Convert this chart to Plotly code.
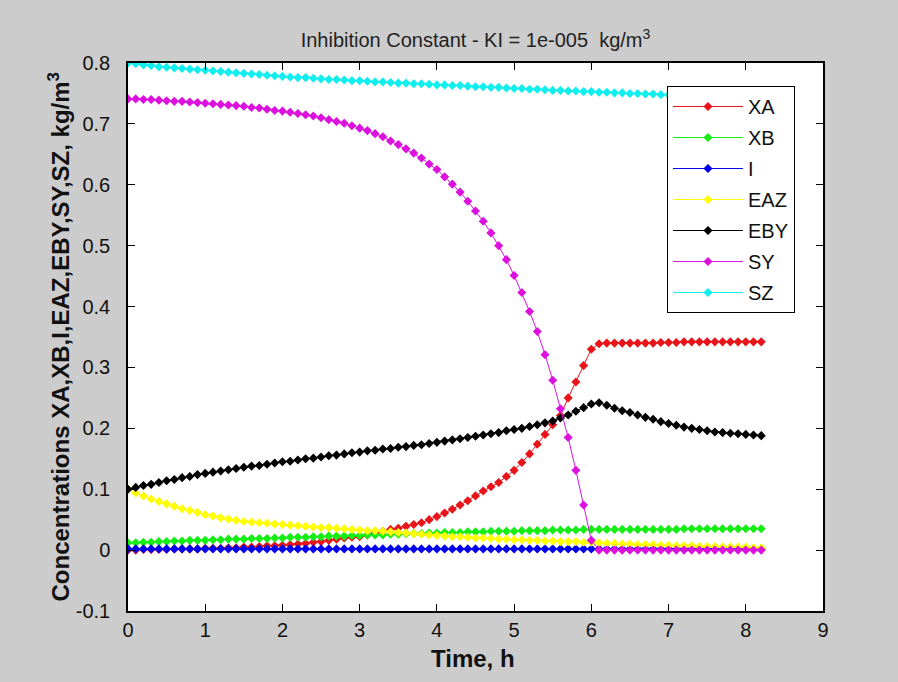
import plotly.graph_objects as go

# ---------------- data ----------------
t = [0.0, 0.1, 0.2, 0.3, 0.4, 0.5, 0.6, 0.7, 0.8, 0.9,
     1.0, 1.1, 1.2, 1.3, 1.4, 1.5, 1.6, 1.7, 1.8, 1.9,
     2.0, 2.1, 2.2, 2.3, 2.4, 2.5, 2.6, 2.7, 2.8, 2.9,
     3.0, 3.1, 3.2, 3.3, 3.4, 3.5, 3.6, 3.7, 3.8, 3.9,
     4.0, 4.1, 4.2, 4.3, 4.4, 4.5, 4.6, 4.7, 4.8, 4.9,
     5.0, 5.1, 5.2, 5.3, 5.4, 5.5, 5.6, 5.7, 5.8, 5.9,
     6.0, 6.1, 6.2, 6.3, 6.4, 6.5, 6.6, 6.7, 6.8, 6.9,
     7.0, 7.1, 7.2, 7.3, 7.4, 7.5, 7.6, 7.7, 7.8, 7.9,
     8.0, 8.1, 8.2]

XA = [0.000, 0.000, 0.001, 0.001, 0.001, 0.001, 0.002, 0.002, 0.002, 0.002,
      0.003, 0.003, 0.003, 0.004, 0.004, 0.005, 0.005, 0.006, 0.007, 0.007,
      0.008, 0.009, 0.010, 0.011, 0.013, 0.014, 0.016, 0.018, 0.020, 0.021,
      0.022, 0.025, 0.028, 0.031, 0.034, 0.036, 0.039, 0.042, 0.045, 0.050,
      0.055, 0.061, 0.067, 0.074, 0.081, 0.089, 0.097, 0.104, 0.111, 0.121,
      0.131, 0.144, 0.158, 0.174, 0.190, 0.206, 0.221, 0.250, 0.276, 0.303,
      0.330, 0.339, 0.340, 0.340, 0.340, 0.340, 0.340, 0.340, 0.340, 0.341,
      0.341, 0.341, 0.342, 0.342, 0.342, 0.342, 0.342, 0.342, 0.342, 0.342,
      0.342, 0.342, 0.342]

XB = [0.012, 0.012, 0.013, 0.013, 0.014, 0.014, 0.015, 0.015, 0.016, 0.016,
      0.016, 0.017, 0.017, 0.018, 0.018, 0.018, 0.019, 0.019, 0.019, 0.020,
      0.020, 0.021, 0.021, 0.021, 0.022, 0.022, 0.023, 0.023, 0.023, 0.024,
      0.024, 0.025, 0.025, 0.025, 0.026, 0.026, 0.027, 0.027, 0.027, 0.028,
      0.028, 0.029, 0.029, 0.029, 0.030, 0.030, 0.030, 0.031, 0.031, 0.031,
      0.031, 0.032, 0.032, 0.032, 0.032, 0.033, 0.033, 0.033, 0.033, 0.034,
      0.034, 0.034, 0.034, 0.034, 0.034, 0.034, 0.034, 0.034, 0.034, 0.034,
      0.034, 0.034, 0.035, 0.035, 0.035, 0.035, 0.035, 0.035, 0.035, 0.035,
      0.035, 0.035, 0.035]

I = [0.002, 0.002, 0.002, 0.002, 0.002, 0.002, 0.002, 0.002, 0.002, 0.002,
     0.002, 0.002, 0.002, 0.002, 0.002, 0.002, 0.002, 0.002, 0.002, 0.002,
     0.002, 0.002, 0.002, 0.002, 0.002, 0.002, 0.002, 0.002, 0.002, 0.002,
     0.002, 0.002, 0.002, 0.002, 0.002, 0.002, 0.002, 0.002, 0.002, 0.002,
     0.002, 0.002, 0.002, 0.002, 0.002, 0.002, 0.002, 0.002, 0.002, 0.002,
     0.002, 0.002, 0.002, 0.002, 0.002, 0.002, 0.002, 0.002, 0.002, 0.002,
     0.002, 0.002, 0.002, 0.002, 0.002, 0.002, 0.002, 0.002, 0.002, 0.002,
     0.002, 0.002, 0.002, 0.002, 0.002, 0.002, 0.002, 0.002, 0.002, 0.002,
     0.002, 0.002, 0.002]

EAZ = [0.100, 0.094, 0.089, 0.084, 0.080, 0.076, 0.072, 0.068, 0.065, 0.062,
       0.058, 0.056, 0.053, 0.051, 0.049, 0.047, 0.046, 0.045, 0.044, 0.043,
       0.042, 0.041, 0.040, 0.039, 0.038, 0.037, 0.037, 0.036, 0.035, 0.034,
       0.033, 0.032, 0.032, 0.031, 0.030, 0.029, 0.028, 0.027, 0.026, 0.025,
       0.024, 0.023, 0.022, 0.022, 0.021, 0.020, 0.020, 0.019, 0.018, 0.018,
       0.017, 0.017, 0.016, 0.016, 0.015, 0.015, 0.014, 0.014, 0.014, 0.013,
       0.013, 0.012, 0.011, 0.011, 0.010, 0.010, 0.009, 0.009, 0.009, 0.008,
       0.008, 0.007, 0.007, 0.007, 0.006, 0.006, 0.006, 0.005, 0.005, 0.005,
       0.005, 0.004, 0.004]

EBY = [0.100, 0.103, 0.106, 0.108, 0.111, 0.114, 0.116, 0.119, 0.121, 0.124,
       0.126, 0.128, 0.130, 0.132, 0.134, 0.136, 0.138, 0.139, 0.141, 0.143,
       0.145, 0.146, 0.148, 0.150, 0.151, 0.153, 0.155, 0.156, 0.158, 0.160,
       0.161, 0.163, 0.164, 0.166, 0.167, 0.169, 0.170, 0.172, 0.173, 0.175,
       0.177, 0.179, 0.181, 0.183, 0.185, 0.187, 0.189, 0.191, 0.193, 0.196,
       0.198, 0.200, 0.203, 0.206, 0.209, 0.212, 0.217, 0.222, 0.228, 0.234,
       0.240, 0.242, 0.238, 0.233, 0.229, 0.226, 0.222, 0.218, 0.215, 0.211,
       0.208, 0.205, 0.202, 0.200, 0.198, 0.196, 0.194, 0.193, 0.192, 0.191,
       0.190, 0.189, 0.188]

SY = [0.741, 0.741, 0.740, 0.740, 0.739, 0.738, 0.737, 0.737, 0.736, 0.735,
      0.734, 0.733, 0.732, 0.731, 0.730, 0.729, 0.727, 0.726, 0.724, 0.722,
      0.721, 0.719, 0.717, 0.715, 0.713, 0.710, 0.707, 0.704, 0.701, 0.697,
      0.693, 0.689, 0.684, 0.679, 0.672, 0.666, 0.659, 0.652, 0.644, 0.634,
      0.625, 0.613, 0.601, 0.588, 0.573, 0.557, 0.540, 0.521, 0.500, 0.477,
      0.451, 0.423, 0.392, 0.359, 0.321, 0.279, 0.232, 0.185, 0.131, 0.074,
      0.016, 0.000, 0.000, 0.000, 0.000, 0.000, 0.000, 0.000, 0.000, 0.000,
      0.000, 0.000, 0.000, 0.000, 0.000, 0.000, 0.000, 0.000, 0.000, 0.000,
      0.000, 0.000, 0.000]

SZ = [0.800, 0.799, 0.797, 0.796, 0.794, 0.793, 0.792, 0.791, 0.790, 0.789,
      0.788, 0.787, 0.786, 0.785, 0.784, 0.783, 0.782, 0.781, 0.780, 0.779,
      0.778, 0.777, 0.776, 0.776, 0.775, 0.774, 0.773, 0.773, 0.772, 0.771,
      0.771, 0.770, 0.769, 0.769, 0.768, 0.767, 0.767, 0.766, 0.766, 0.765,
      0.764, 0.764, 0.763, 0.763, 0.762, 0.761, 0.761, 0.760, 0.760, 0.759,
      0.758, 0.758, 0.757, 0.757, 0.756, 0.755, 0.755, 0.754, 0.754, 0.753,
      0.753, 0.752, 0.752, 0.751, 0.751, 0.750, 0.750, 0.749, 0.749, 0.748,
      0.748, 0.747, 0.747, 0.746, 0.746, 0.745, 0.745, 0.744, 0.744, 0.743,
      0.743, 0.742, 0.742]

series_names = ["XA", "XB", "I", "EAZ", "EBY", "SY", "SZ"]
series_values = [XA, XB, I, EAZ, EBY, SY, SZ]
series_colors = ["#e8141a", "#14ee14", "#0000ee", "#ffff00", "#000000", "#dd11dd", "#11eeee"]

x_ticks = [0, 1, 2, 3, 4, 5, 6, 7, 8, 9]
x_ticktext = ["0", "1", "2", "3", "4", "5", "6", "7", "8", "9"]
y_ticks = [-0.1, 0, 0.1, 0.2, 0.3, 0.4, 0.5, 0.6, 0.7, 0.8]
y_ticktext = ["-0.1", "0", "0.1", "0.2", "0.3", "0.4", "0.5", "0.6", "0.7", "0.8"]

title_text = "Inhibition Constant - KI = 1e-005  kg/m<sup>3</sup>"
x_title = "<b>Time, h</b>"
y_title = "<b>Concentrations XA,XB,I,EAZ,EBY,SY,SZ, kg/m<sup>3</sup></b>"

FONT = "Liberation Sans, Arial, Helvetica, sans-serif"

fig = go.Figure()
for name, vals, col in zip(series_names, series_values, series_colors):
    fig.add_trace(go.Scatter(
        x=t, y=vals, name=name, mode="lines+markers", legendgroup=name,
        line=dict(color=col, width=1),
        marker=dict(symbol="diamond", size=7, color=col, line=dict(width=0)),
    ))

axis_common = dict(
    showgrid=False, zeroline=False, showline=True, linecolor="black", linewidth=1.5,
    mirror="ticks", ticks="inside", ticklen=7, tickwidth=1.2, tickcolor="black",
    tickfont=dict(family=FONT, size=20, color="#111111"),
)

fig.update_xaxes(range=[0, 9], tickvals=x_ticks, ticktext=x_ticktext,
                 ticklabelstandoff=0, **axis_common)
fig.update_yaxes(range=[-0.1, 0.8], tickvals=y_ticks, ticktext=y_ticktext,
                 ticklabelstandoff=12, **axis_common)

fig.update_layout(
    width=898, height=682, autosize=False,
    paper_bgcolor="#cccccc", plot_bgcolor="white",
    margin=dict(l=128, r=75, t=63, b=71),
    font=dict(family=FONT, color="#111111"),
    title=dict(text=title_text, x=0.5, xref="paper", xanchor="center",
               y=1 - 40 / 682, yref="container", yanchor="middle",
               font=dict(family=FONT, size=20, color="#222222")),
    showlegend=True,
    legend=dict(x=0.7755, xanchor="left", y=0.958, yanchor="top",
                bgcolor="white", bordercolor="black", borderwidth=1,
                font=dict(family=FONT, size=20, color="#111111"),
                itemwidth=70, tracegroupgap=2, traceorder="grouped"),
    annotations=[
        dict(text=x_title, xref="paper", yref="paper", x=0.4964, y=-0.086,
             xanchor="center", yanchor="middle", showarrow=False,
             font=dict(family=FONT, size=24, color="#111111")),
        dict(text=y_title, xref="paper", yref="paper", x=-0.1, y=0.5,
             xanchor="center", yanchor="middle", showarrow=False, textangle=-90,
             font=dict(family=FONT, size=24, color="#111111")),
    ],
)

fig.write_html("out.html")
